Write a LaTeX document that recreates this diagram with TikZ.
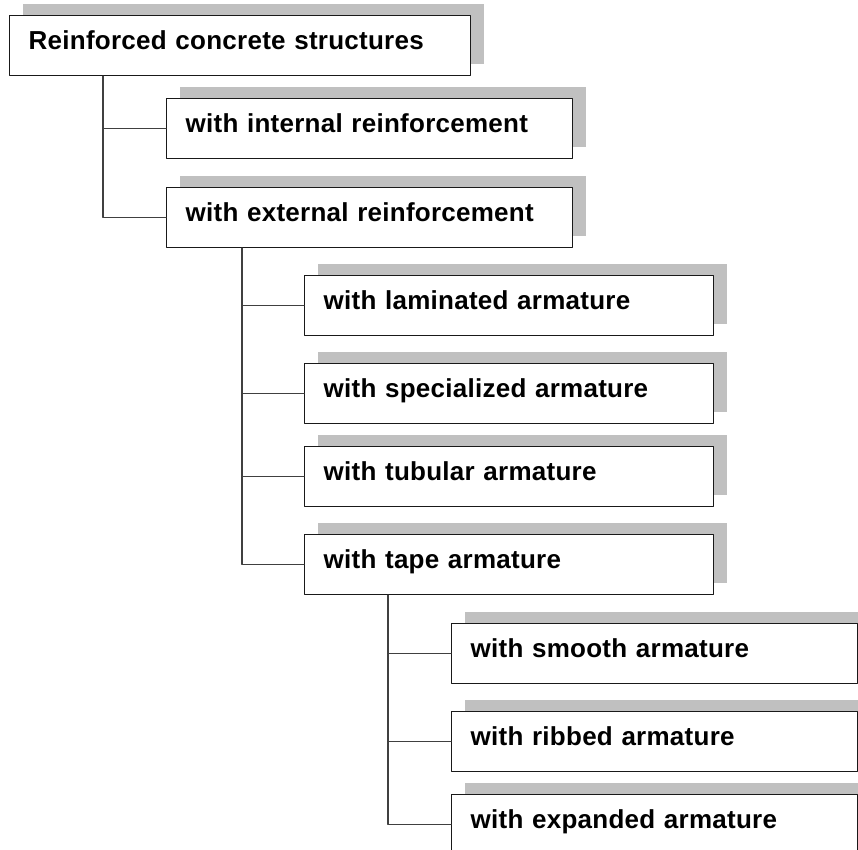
\documentclass[tikz,border=0pt]{standalone}
\usepackage{fontspec}
\setmainfont{Liberation Sans}[LetterSpace=1]
\usepackage{xcolor}
\usetikzlibrary{calc,shadows}
\definecolor{shadowgray}{HTML}{C0C0C0}
\definecolor{linegray}{HTML}{404040}
\begin{document}
\begin{tikzpicture}[x=1pt,y=-1pt,line cap=round,line join=round,
  box/.style={draw=black!90,line width=1.3pt,fill=white,anchor=north west,
    general shadow={fill=shadowgray,shadow xshift=13pt,shadow yshift=12pt},
    text width=#1-38pt,align=left,inner xsep=19pt,inner ysep=0pt,
    text height=34pt,text depth=26pt,
    font=\fontsize{26}{30}\selectfont\bfseries},
  link/.style={draw=linegray,line width=1.3pt}]
\useasboundingbox (0,0) rectangle (858,849);
\fill[white] (0,0) rectangle (858,849);
\node[box=461pt] (root) at (9,15) {Reinforced concrete structures};
\node[box=406pt] (int) at (166,98) {with internal reinforcement};
\node[box=406pt] (ext) at (166,187) {with external reinforcement};
\node[box=409pt] (lam) at (304,275) {with laminated armature};
\node[box=409pt] (spec) at (304,363) {with specialized armature};
\node[box=409pt] (tub) at (304,446) {with tubular armature};
\node[box=409pt] (tape) at (304,534) {with tape armature};
\node[box=406pt] (smooth) at (451,623) {with smooth armature};
\node[box=406pt] (rib) at (451,711) {with ribbed armature};
\node[box=406pt] (expd) at (451,794) {with expanded armature};
\coordinate (r0) at ($(root.south west)+(94,0)$);
\coordinate (e0) at ($(ext.south west)+(76,0)$);
\coordinate (t0) at ($(tape.south west)+(84,0)$);
\draw[link] (r0) |- (int.west);
\draw[link] (r0) |- (ext.west);
\foreach \n in {lam,spec,tub,tape}
  \draw[link] (e0) |- (\n.west);
\foreach \n in {smooth,rib,expd}
  \draw[link] (t0) |- (\n.west);
\end{tikzpicture}
\end{document}
